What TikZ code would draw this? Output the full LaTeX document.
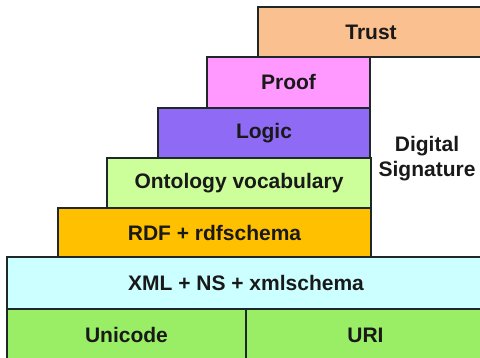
\documentclass[tikz,border=0pt]{standalone}
\usepackage{fontspec}
\setmainfont{Liberation Sans}
\definecolor{ctrust}{RGB}{250,192,144}
\definecolor{cproof}{RGB}{255,153,255}
\definecolor{clogic}{RGB}{143,107,245}
\definecolor{conto}{RGB}{204,255,153}
\definecolor{crdf}{RGB}{255,192,0}
\definecolor{cxml}{RGB}{204,255,255}
\definecolor{cgreen}{RGB}{153,238,102}
\definecolor{cline}{RGB}{30,40,40}
\begin{document}
\begin{tikzpicture}[x=1pt,y=1pt,
  layer/.style={draw=cline, line width=1.3pt, inner sep=0pt, anchor=center,
    font=\bfseries\fontsize{21}{25}\selectfont, text=black!90},
  sig/.style={align=center, inner sep=0pt, font=\bfseries\fontsize{21}{25}\selectfont, text=black!90}]
\useasboundingbox (0,0) rectangle (480,358);
\node[layer, fill=ctrust, minimum width=226, minimum height=50] (trust) at (371,326) {Trust};
\node[layer, fill=cproof, minimum width=163, minimum height=51] (proof) at (288.5,275.5) {Proof};
\node[layer, fill=clogic, minimum width=212, minimum height=50] (logic) at (264,225) {Logic};
\node[layer, fill=conto, minimum width=264, minimum height=50] (onto) at (239,175) {Ontology vocabulary};
\node[layer, fill=crdf, minimum width=313, minimum height=49] (rdf) at (214.5,125.5) {RDF + rdfschema};
\node[layer, fill=cxml, minimum width=478, minimum height=52] (xml) at (246,75) {XML + NS + xmlschema};
\node[layer, fill=cgreen, minimum width=239, minimum height=52] (unicode) at (126.5,23) {Unicode};
\node[layer, fill=cgreen, minimum width=239, minimum height=52] (uri) at (365.5,23) {URI};
\node[sig] (digsig) at (427,199) {Digital\\Signature};
\end{tikzpicture}
\end{document}
